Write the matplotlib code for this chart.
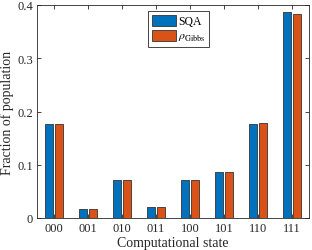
import numpy as np
import matplotlib
matplotlib.use("Agg")
import matplotlib.pyplot as plt

plt.rcParams['font.family'] = ['Liberation Serif', 'DejaVu Serif']
plt.rcParams['mathtext.fontset'] = 'stix'

states = ['000', '001', '010', '011', '100', '101', '110', '111']
sqa = [0.176, 0.0175, 0.0714, 0.021, 0.0712, 0.0857, 0.177, 0.3875]
gibbs = [0.177, 0.0172, 0.0716, 0.0208, 0.0714, 0.0855, 0.1775, 0.3837]

blue = '#0072BD'
orange = '#D95319'
axc = '#262626'

fig = plt.figure(figsize=(3.12, 2.51), dpi=100)
ax = fig.add_axes([37/312, 1 - 219/251, (309-37)/312, (219-6)/251])

x = np.arange(1, len(states) + 1)
w = 0.23
ax.bar(x - 0.14, sqa, w, color=blue, edgecolor='#333333', linewidth=0.6, label='SQA')
ax.bar(x + 0.14, gibbs, w, color=orange, edgecolor='#333333', linewidth=0.6,
       label=r'$\rho_{\mathrm{Gibbs}}$')

ax.set_xlim(0.5, 8.5)
ax.set_ylim(0, 0.4)
ax.set_xticks(x)
ax.set_xticklabels(states)
ax.set_yticks([0, 0.1, 0.2, 0.3, 0.4])
ax.set_yticklabels(['0', '0.1', '0.2', '0.3', '0.4'])
ax.tick_params(direction='in', top=True, right=True, length=3, width=0.6,
               labelsize=9, colors=axc, pad=3)
for s in ax.spines.values():
    s.set_linewidth(0.6)
    s.set_color(axc)

ax.set_xlabel('Computational state', fontsize=10, color=axc, labelpad=1)
ax.set_ylabel('Fraction of population', fontsize=10, color=axc, labelpad=2)

leg = ax.legend(loc='upper left', bbox_to_anchor=((148-37)/272, 1 - 6/213), fontsize=8.5,
                fancybox=False, framealpha=1, edgecolor=axc, handlelength=2.1,
                handleheight=1.1, handletextpad=0.15, borderpad=0.3, labelspacing=0.2,
                borderaxespad=0)
leg.get_frame().set_linewidth(0.6)

fig.savefig('out.png', dpi=100)
